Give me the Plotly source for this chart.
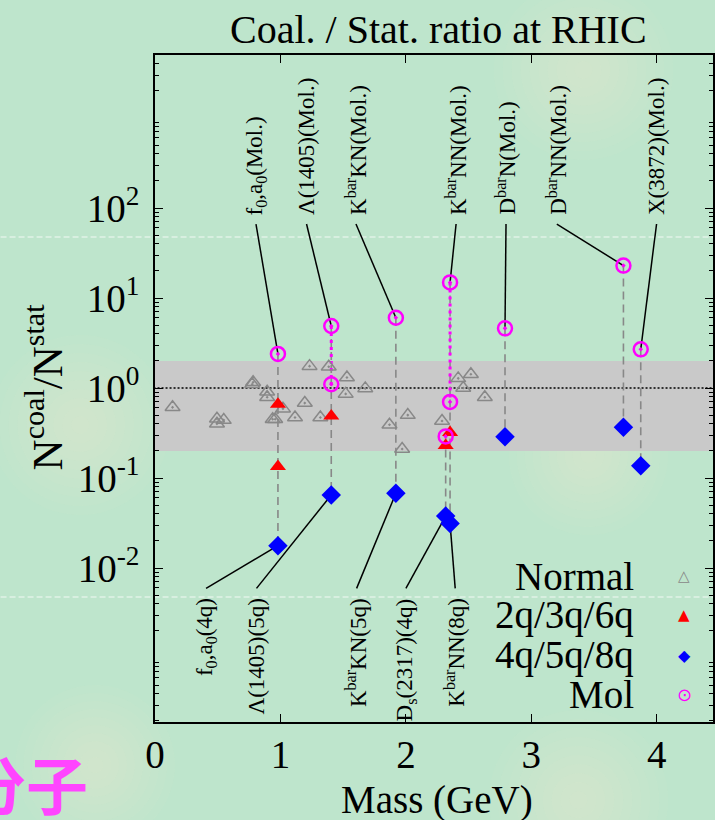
import math
import plotly.graph_objects as go

# ---------------- data ----------------
normal_mass = [0.140, 0.494, 0.494, 0.548, 0.775, 0.782, 0.894, 0.894, 0.938, 0.958,
               1.020, 1.116, 1.194, 1.318, 1.232, 1.385, 1.530, 1.520, 1.676, 1.869,
               2.015, 1.970, 2.288, 2.417, 2.518, 2.457, 2.629]
normal_ratio = [0.61, 0.456, 0.40, 0.44, 1.10, 1.16, 0.91, 0.79, 0.45, 0.45,
                0.59, 0.47, 0.68, 0.47, 1.75, 1.72, 1.31, 0.86, 0.99, 0.39,
                0.50, 0.21, 0.43, 1.28, 1.42, 1.00, 0.79]

exotic_mass = [0.980, 1.405, 1.920, 2.317, 2.352, 2.790, 3.734, 3.872]
mol_ratio = [2.39, 4.89, 6.04, 0.29, 14.9, 4.6, 22.9, 2.69]
mol2_ratio = [None, 1.10, None, None, 0.70, None, None, None]
compact_ratio = [0.0177, 0.0648, 0.0676, 0.0378, 0.0313, 0.288, 0.366, 0.137]

multi_mass = [0.980, 0.980, 1.405, 2.317, 2.352]
multi_ratio = [0.66, 0.134, 0.49, 0.23, 0.32]

band_ratio = [0.2, 2.0]
unity_ratio = 1.0

# labels above (molecular states) : text, label x (GeV), index of exotic
top_labels = ["f<sub>0</sub>,a<sub>0</sub>(Mol.)", "Λ(1405)(Mol.)", "K<sup>bar</sup>KN(Mol.)",
              "K<sup>bar</sup>NN(Mol.)", "D<sup>bar</sup>N(Mol.)", "D<sup>bar</sup>NN(Mol.)",
              "X(3872)(Mol.)"]
top_label_x = [0.805, 1.208, 1.602, 2.400, 2.798, 3.203, 3.998]
top_label_idx = [0, 1, 2, 4, 5, 6, 7]

bottom_labels = ["f<sub>0</sub>,a<sub>0</sub>(4q)", "Λ(1405)(5q)", "K<sup>bar</sup>KN(5q)",
                 "D<sub>s</sub>(2317)(4q)", "K<sup>bar</sup>NN(8q)"]
bottom_label_x = [0.407, 0.809, 1.607, 2.000, 2.393]
bottom_label_idx = [0, 1, 2, 3, 4]

legend_names = ["Normal", "2q/3q/6q", "4q/5q/8q", "Mol"]
legend_glyphs = ["△", "▲", "◆", "⊙"]

x_ticks = [0, 1, 2, 3, 4]
y_ticks = [0.01, 0.1, 1, 10, 100]
y_ticktext = ["10<sup>-2</sup>", "10<sup>-1</sup>", "10<sup>0</sup>", "10<sup>1</sup>", "10<sup>2</sup>"]

# ---------------- styling / layout ----------------
W, H = 715, 820
ML, MR, MT, MB = 155, 0, 55, 98
PW, PH = W - ML - MR, H - MT - MB
SERIF = "Liberation Serif"
GRAY = "#888888"
LABEL_LINE_TOP = 10 ** 1.822
LABEL_TEXT_TOP = 1.90
LABEL_LINE_BOT = 10 ** -2.226
LABEL_TEXT_BOT = -2.311


def px(xp):
    return (xp - ML) / PW


def py(yp):
    return (H - MB - yp) / PH


fig = go.Figure()

# gray band
fig.add_trace(go.Scatter(x=[-1, 10, 10, -1], y=[band_ratio[0], band_ratio[0], band_ratio[1], band_ratio[1]],
                         fill="toself", fillcolor="#C9C9C9", line=dict(width=0), mode="lines",
                         hoverinfo="skip", showlegend=False))
# unity dotted line
fig.add_trace(go.Scatter(x=[-1, 10], y=[unity_ratio, unity_ratio], mode="lines",
                         line=dict(color="black", width=1.3, dash="2px,2px"), showlegend=False))

# gray dashed verticals
vx, vy = [], []
for i, m in enumerate(exotic_mass):
    top = max(v for v in [mol_ratio[i], mol2_ratio[i]] if v is not None)
    vx += [m, m, None]
    vy += [top, compact_ratio[i], None]
fig.add_trace(go.Scatter(x=vx, y=vy, mode="lines", line=dict(color=GRAY, width=1.6, dash="8px,5px"),
                         showlegend=False))

# magenta dotted between two molecular values
dx, dy = [], []
for i, m in enumerate(exotic_mass):
    if mol2_ratio[i] is not None:
        dx += [m, m, None]
        dy += [mol_ratio[i], mol2_ratio[i], None]
fig.add_trace(go.Scatter(x=dx, y=dy, mode="lines", line=dict(color="#FF00FF", width=3, dash="3px,4px"),
                         showlegend=False))

# label connector lines
lx, ly = [], []
for xl, idx in zip(top_label_x, top_label_idx):
    lx += [xl, exotic_mass[idx], None]
    ly += [LABEL_LINE_TOP, mol_ratio[idx], None]
for xl, idx in zip(bottom_label_x, bottom_label_idx):
    lx += [xl, exotic_mass[idx], None]
    ly += [LABEL_LINE_BOT, compact_ratio[idx], None]
fig.add_trace(go.Scatter(x=lx, y=ly, mode="lines", line=dict(color="black", width=1.5), showlegend=False))

# markers
fig.add_trace(go.Scatter(x=normal_mass, y=normal_ratio, mode="markers", name="Normal",
                         marker=dict(symbol="triangle-up-open-dot", size=13, color=GRAY,
                                     line=dict(width=1.5, color=GRAY))))
fig.add_trace(go.Scatter(x=multi_mass, y=multi_ratio, mode="markers", name="2q/3q/6q",
                         marker=dict(symbol="triangle-up", size=14, color="#FF0000")))
fig.add_trace(go.Scatter(x=exotic_mass, y=compact_ratio, mode="markers", name="4q/5q/8q",
                         marker=dict(symbol="diamond", size=15, color="#0000FF")))
mx = [m for m in exotic_mass] + [m for m, v in zip(exotic_mass, mol2_ratio) if v is not None]
my = list(mol_ratio) + [v for v in mol2_ratio if v is not None]
fig.add_trace(go.Scatter(x=mx, y=my, mode="markers", name="Mol",
                         marker=dict(symbol="circle-open-dot", size=14, color="#FF00FF",
                                     line=dict(width=2.5, color="#FF00FF"))))

ann = []
for t, xl in zip(top_labels, top_label_x):
    ann.append(dict(x=xl, y=LABEL_TEXT_TOP, xref="x", yref="y", text=t, textangle=-90,
                    showarrow=False, xanchor="center", yanchor="bottom",
                    font=dict(family=SERIF, size=23, color="black")))
for t, xl in zip(bottom_labels, bottom_label_x):
    ann.append(dict(x=xl, y=LABEL_TEXT_BOT, xref="x", yref="y", text=t, textangle=-90,
                    showarrow=False, xanchor="center", yanchor="top",
                    font=dict(family=SERIF, size=23, color="black")))

# title, axis titles
ann.append(dict(x=px(439.5), y=py(30), xref="paper", yref="paper", text="Coal. / Stat. ratio at RHIC",
                showarrow=False, xanchor="center", yanchor="middle",
                font=dict(family=SERIF, size=40, color="black")))
ann.append(dict(x=px(437.6), y=py(800), xref="paper", yref="paper", text="Mass (GeV)",
                showarrow=False, xanchor="center", yanchor="middle",
                font=dict(family=SERIF, size=39, color="black")))
ann.append(dict(x=px(44), y=py(387), xref="paper", yref="paper", text="N<sup>coal</sup>/N<sup>stat</sup>",
                textangle=-90, showarrow=False, xanchor="center", yanchor="middle",
                font=dict(family=SERIF, size=43, color="black")))

# legend (gnuplot style: text then symbol)
leg_y = [576, 615, 655, 694]
leg_col = [GRAY, "#FF0000", "#0000FF", "#FF00FF"]
leg_size = [15, 15, 16, 18]
for name, g, yy, c, s in zip(legend_names, legend_glyphs, leg_y, leg_col, leg_size):
    ann.append(dict(x=px(638), y=py(yy), xref="paper", yref="paper", text=name, showarrow=False,
                    xanchor="right", yanchor="middle", font=dict(family=SERIF, size=39, color="black")))
    ann.append(dict(x=px(686), y=py(yy), xref="paper", yref="paper", text=g, showarrow=False,
                    xanchor="center", yanchor="middle", font=dict(family="DejaVu Sans", size=s, color=c)))

# slide text
ann.append(dict(x=px(90), y=py(783), xref="paper", yref="paper", text="<b>分子</b>", showarrow=False,
                xanchor="right", yanchor="middle",
                font=dict(family="Noto Sans CJK SC", size=62, color="#FF45FF")))

# background glows and slide artifacts
shapes = []
for cx, cy, r in [(80, 425, 90), (585, 70, 90), (590, 455, 80), (580, 800, 90), (95, 765, 80)]:
    n = 10
    for k in range(n):
        rr = r * (1 - k / n)
        shapes.append(dict(type="circle", xref="paper", yref="paper", layer="below",
                           x0=px(cx - rr), x1=px(cx + rr), y0=py(cy + rr), y1=py(cy - rr),
                           fillcolor="#EEF3C6", opacity=0.06, line=dict(width=0)))
for yy in [237, 597]:
    shapes.append(dict(type="line", xref="paper", yref="paper", layer="below",
                       x0=px(0), x1=px(W), y0=py(yy), y1=py(yy),
                       line=dict(color="white", width=2, dash="6px,3px"), opacity=0.4))

minor_vals = [k * 10.0 ** e for e in range(-4, 4) for k in range(2, 10)]

fig.update_layout(
    width=W, height=H, margin=dict(l=ML, r=MR, t=MT, b=MB, pad=0),
    paper_bgcolor="#BEE5CC", plot_bgcolor="rgba(0,0,0,0)",
    showlegend=False, annotations=ann, shapes=shapes,
    font=dict(family=SERIF, color="black"),
)
fig.update_xaxes(range=[0, 4.448], tickvals=x_ticks, ticktext=[str(v) for v in x_ticks],
                 ticks="inside", ticklen=8, tickwidth=1.2, tickcolor="black",
                 showline=True, linecolor="black", linewidth=1.5, mirror="ticks",
                 showgrid=False, zeroline=False, ticklabelstandoff=-3,
                 tickfont=dict(family=SERIF, size=39, color="black"))
fig.update_yaxes(type="log", range=[-3.711, 3.7], tickvals=y_ticks, ticktext=y_ticktext,
                 ticks="inside", ticklen=8, tickwidth=1.2, tickcolor="black",
                 showline=True, linecolor="black", linewidth=1.5, mirror="ticks",
                 showgrid=False, zeroline=False, ticklabelstandoff=6,
                 minor=dict(tickvals=minor_vals, ticks="inside", ticklen=4, tickcolor="black",
                            tickwidth=1, showgrid=False),
                 tickfont=dict(family=SERIF, size=39, color="black"))

fig.write_html("out.html", config={"displayModeBar": False},
               post_script="document.body.style.margin='0';document.body.style.overflow='hidden';"
                           "document.body.style.background='#BEE5CC';")
